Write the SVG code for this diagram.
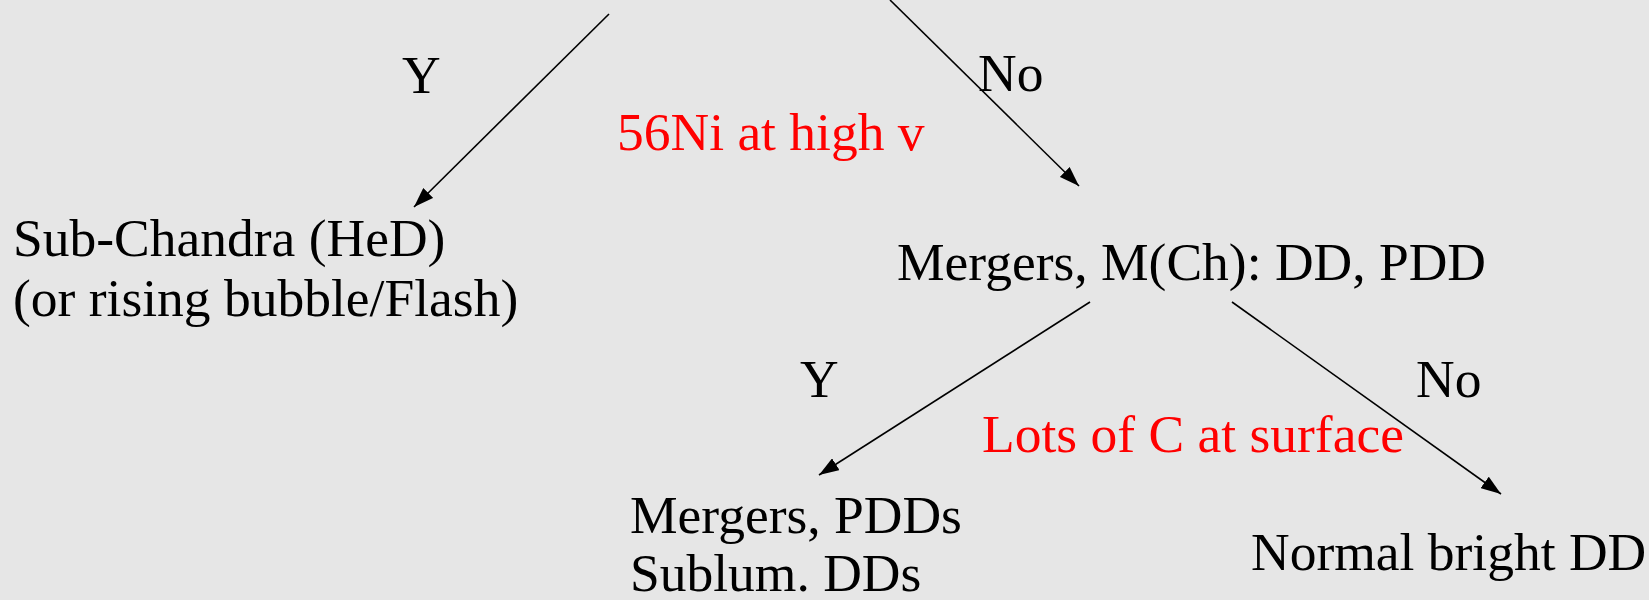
<svg xmlns="http://www.w3.org/2000/svg" width="1649" height="600" viewBox="0 0 1649 600">
<defs>
<style>
.t{font-family:"Liberation Serif","Times New Roman",serif;font-size:53.5px;fill:#000}
.r{fill:#ff0000}
.c{stroke:#000;stroke-width:1.6;fill:none;marker-end:url(#ah)}
</style>
<marker id="ah" markerUnits="userSpaceOnUse" markerWidth="20" markerHeight="14" viewBox="0 0 20 14" refX="20" refY="7" orient="auto">
<path d="M0,0 L20,7 L0,14 z" fill="#000"/>
</marker>
</defs>
<rect width="1649" height="600" fill="#e6e6e6"/>
<g id="connectors">
<line class="c" x1="609" y1="14" x2="414" y2="207"/>
<line class="c" x1="890" y1="0" x2="1079" y2="186"/>
<line class="c" x1="1090" y1="302" x2="819" y2="475"/>
<line class="c" x1="1232" y1="302" x2="1501" y2="494"/>
</g>
<g id="labels">
<text class="t" x="402" y="93">Y</text>
<text class="t" x="978" y="91">No</text>
<text class="t r" x="617" y="150">56Ni at high v</text>
<text class="t" x="800" y="397">Y</text>
<text class="t" x="1416" y="397">No</text>
<text class="t r" x="982" y="452">Lots of C at surface</text>
</g>
<g id="node-subchandra">
<text class="t" x="13" y="256">Sub-Chandra (HeD)</text>
<text class="t" x="13" y="316">(or rising bubble/Flash)</text>
</g>
<g id="node-mergers-mch">
<text class="t" x="897" y="280">Mergers, M(Ch): DD, PDD</text>
</g>
<g id="node-mergers-pdds">
<text class="t" x="630" y="533">Mergers, PDDs</text>
<text class="t" x="630" y="591">Sublum. DDs</text>
</g>
<g id="node-normal">
<text class="t" x="1251" y="570">Normal bright DD</text>
</g>
</svg>
